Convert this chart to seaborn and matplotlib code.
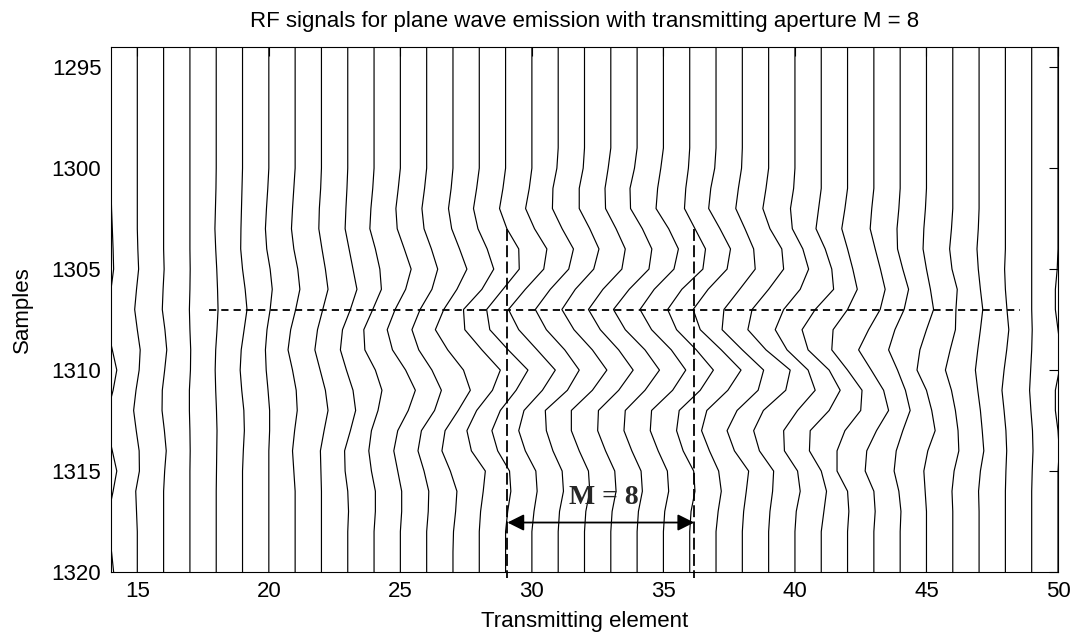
import matplotlib
matplotlib.use("Agg")
import matplotlib.pyplot as plt
import seaborn as sns
import pandas as pd

# muestras (eje vertical) y elementos (eje horizontal)
samples = list(range(1294, 1321))
elements = list(range(14, 51))

# desplazamiento de cada traza RF (en unidades de elemento), muestras 1294..1320
rf_14 = [0, 0, 0, 0, 0, 0, 0, 0, .02, .05, .08, .10, 0, -.12, -.12, .05, .22, .08, -.12, -.12, .05, .22, .08, -.08, -.08, .02, .10]
rf_15 = [0, 0, 0, 0, 0, 0, 0, 0, 0, 0, .02, .05, -.03, -.10, 0, .11, .07, -.05, -.14, -.04, .07, .08, -.06, -.03, 0, 0, 0]
rf_16 = [0, 0, 0, 0, 0, 0, 0, 0, 0, 0, 0, .02, -.02, -.05, .05, .12, .04, -.05, -.06, .03, .10, .04, 0, 0, 0, 0, 0]
rf_17 = [0, 0, 0, 0, 0, 0, 0, 0, 0, 0, 0, .01, 0, -.02, 0, .03, .02, -.02, -.02, 0, .01, 0, 0, 0, 0, 0, 0]
rf_18 = [0, 0, 0, 0, 0, 0, 0, -.01, -.03, -.05, -.02, .02, .05, .07, .03, -.02, -.04, -.02, .01, .03, .02, .01, 0, 0, 0, 0, 0]
rf_19 = [0, 0, 0, 0, 0, 0, 0, -.02, -.04, -.06, -.07, 0, .10, .17, .06, -.05, -.09, -.03, .05, .07, .03, 0, 0, 0, 0, 0, 0]
rf_20 = [0, 0, 0, 0, 0, 0, 0, -.04, -.09, -.13, -.08, .05, .13, .05, -.07, -.13, -.10, -.03, .03, .03, 0, 0, 0, 0, 0, 0, 0]
rf_21 = [0, 0, 0, 0, 0, 0, 0, -.05, -.10, -.14, -.05, .10, .18, .02, -.17, -.27, -.10, .04, .08, -.02, -.10, -.05, 0, 0, 0, 0, 0]
rf_22 = [0, 0, 0, 0, 0, 0, 0, -.03, -.08, -.10, .02, .15, .25, .05, -.15, -.25, -.05, .15, .25, .10, -.04, -.02, 0, 0, 0, 0, 0]
rf_23 = [0, 0, 0, 0, 0, 0, 0, -.03, -.07, -.10, .05, .20, .35, .10, -.20, -.28, -.05, .20, .30, .10, -.12, -.10, 0, .03, 0, 0, 0]
rf_24 = [0, 0, 0, 0, 0, 0, 0, -.05, -.12, -.16, .05, .22, .28, -.05, -.39, -.35, .05, .30, .15, -.10, -.20, -.10, .05, .05, 0, 0, 0]
rf_25 = [0, 0, 0, 0, 0, 0, 0, -.08, -.17, -.12, .15, .41, .20, -.20, -.50, -.30, .20, .57, .30, -.10, -.25, -.10, .05, .05, 0, 0, 0]
rf_26 = [0, 0, 0, 0, 0, 0, 0, -.08, -.18, -.10, .18, .42, .20, -.25, -.56, -.30, .20, .56, .30, -.20, -.33, -.10, .08, .06, 0, 0, 0]
rf_27 = [0, 0, 0, 0, 0, 0, 0, -.07, -.17, -.05, .25, .53, .15, -.35, -.67, -.20, .40, .66, .20, -.30, -.42, -.10, .15, .10, .02, 0, 0]
rf_28 = [0, 0, 0, 0, 0, 0, 0, -.10, -.22, -.05, .30, .55, .10, -.60, -.55, .10, .80, .50, -.10, -.47, -.30, .23, .15, .05, 0, 0, 0]
rf_29 = [0, 0, 0, 0, 0, 0, 0, -.10, -.23, .05, .50, .52, -.10, -.72, -.60, .10, .85, .40, -.20, -.52, -.30, .15, .20, .08, 0, 0, 0]
rf_30 = [0, 0, 0, 0, 0, 0, 0, -.10, -.24, .10, .57, .45, -.25, -.89, -.50, .20, .89, .40, -.30, -.50, -.25, .15, .20, .08, 0, 0, 0]
rf_31 = [0, 0, 0, 0, 0, 0, -.05, -.20, -.22, .15, .58, .40, -.30, -.87, -.45, .25, .80, .35, -.49, -.45, -.20, .15, .20, .05, 0, 0, 0]
rf_32 = [0, 0, 0, 0, 0, 0, -.05, -.20, -.20, .20, .55, .35, -.35, -.86, -.40, .30, .85, .30, -.50, -.50, -.20, .15, .20, .05, 0, 0, 0]
rf_33 = [0, 0, 0, 0, 0, 0, -.10, -.22, -.20, .20, .55, .42, -.30, -.85, -.40, .30, .85, .30, -.47, -.50, -.20, .15, .20, .05, 0, 0, 0]
rf_34 = [0, 0, 0, 0, 0, 0, -.10, -.27, -.25, .20, .56, .45, -.30, -.90, -.45, .30, .85, .30, -.45, -.50, -.20, .15, .20, .05, 0, 0, 0]
rf_35 = [0, 0, 0, 0, 0, 0, -.10, -.22, -.28, .20, .57, .40, -.35, -.89, -.45, .30, .85, .35, -.45, -.50, -.20, .15, .20, .05, 0, 0, 0]
rf_36 = [0, 0, 0, 0, 0, 0, -.05, -.15, -.20, .20, .60, .50, -.30, -.84, -.50, .25, .90, .40, -.40, -.50, -.25, .15, .20, .05, 0, 0, 0]
rf_37 = [0, 0, 0, 0, 0, 0, -.05, -.20, -.28, .15, .55, .42, -.30, -.87, -.60, .20, .95, .45, -.35, -.55, -.25, .10, .20, .08, 0, 0, 0]
rf_38 = [0, 0, 0, 0, 0, 0, -.03, -.15, -.25, .10, .43, .49, -.10, -.70, -.77, 0, .81, .60, -.20, -.58, -.30, .24, .15, .05, 0, 0, 0]
rf_39 = [0, 0, 0, 0, 0, 0, 0, -.10, -.22, .05, .50, .57, 0, -.63, -.79, -.10, .82, .65, -.20, -.57, -.35, .19, .15, .05, 0, 0, 0]
rf_40 = [0, 0, 0, 0, 0, 0, 0, -.05, -.17, -.10, .30, .52, .20, -.43, -.75, -.30, .50, .77, .10, -.43, -.40, .10, .20, .05, 0, 0, 0]
rf_41 = [0, 0, 0, 0, 0, 0, 0, 0, -.10, -.20, .15, .40, .47, -.23, -.73, -.50, .30, .72, .30, -.42, -.45, 0, .20, .10, 0, 0, 0]
rf_42 = [0, 0, 0, 0, 0, 0, 0, 0, -.10, -.22, 0, .20, .37, 0, -.55, -.60, 0, .55, .50, -.10, -.40, -.40, 0, .05, 0, 0, 0]
rf_43 = [0, 0, 0, 0, 0, 0, 0, 0, -.08, -.14, .05, .25, .43, .24, -.20, -.58, -.10, .37, .56, .10, -.27, -.33, 0, .05, 0, 0, 0]
rf_44 = [0, 0, 0, 0, 0, 0, 0, 0, -.05, -.12, -.10, .10, .32, .15, -.20, -.44, -.10, .20, .38, .10, -.15, -.23, -.05, .03, 0, 0, 0]
rf_45 = [0, 0, 0, 0, 0, 0, 0, 0, -.04, -.10, -.13, 0, .15, .27, 0, -.25, -.36, 0, .20, .33, .05, -.10, -.05, 0, 0, 0, 0]
rf_46 = [0, 0, 0, 0, 0, 0, 0, 0, 0, -.05, -.12, -.03, .17, .12, .10, -.10, -.28, -.05, .10, .20, .23, .05, -.03, 0, 0, 0, 0]
rf_47 = [0, 0, 0, 0, 0, 0, 0, 0, 0, -.03, -.08, -.03, .05, .14, .05, -.05, -.14, -.05, .05, .12, .18, .05, -.02, 0, 0, 0, 0]
rf_48 = [0, 0, 0, 0, 0, 0, 0, 0, 0, 0, 0, -.03, 0, .06, .13, .05, -.05, -.13, -.05, .02, .05, .02, 0, 0, 0, 0, 0]
rf_49 = [0, 0, 0, 0, 0, 0, 0, 0, 0, 0, 0, 0, 0, 0, .02, 0, -.04, -.08, -.03, .03, .05, .02, 0, 0, 0, 0, 0]
rf_50 = [0, 0, 0, 0, 0, 0, 0, 0, 0, 0, 0, -.03, -.10, -.10, 0, .10, .05, -.10, -.10, 0, .05, 0, 0, 0, 0, 0, 0]

traces = [rf_14, rf_15, rf_16, rf_17, rf_18, rf_19, rf_20, rf_21, rf_22, rf_23,
          rf_24, rf_25, rf_26, rf_27, rf_28, rf_29, rf_30, rf_31, rf_32, rf_33,
          rf_34, rf_35, rf_36, rf_37, rf_38, rf_39, rf_40, rf_41, rf_42, rf_43,
          rf_44, rf_45, rf_46, rf_47, rf_48, rf_49, rf_50]

# marcas de la apertura M = 8 y linea de la muestra focal
aperture_edges = [29.07, 36.17]
aperture_top = 1303
focus_sample = 1307
focus_span = [17.74, 48.56]
arrow_sample = 1317.55
label_sample = 1316.3

# tabla larga: una fila por muestra y elemento
rows = []
for el, tr in zip(elements, traces):
    for s, v in zip(samples, tr):
        rows.append({"element": el, "sample": s, "pos": el + v})
df = pd.DataFrame(rows)

sns.set_theme(style="white")
plt.rcParams["font.family"] = ["Liberation Sans", "DejaVu Sans"]
plt.rcParams["axes.edgecolor"] = "black"

fig = plt.figure(figsize=(10.73, 6.4), dpi=100)
ax = fig.add_axes([111 / 1073, 1 - 572 / 640, 947 / 1073, 525 / 640])

sns.lineplot(data=df, x="pos", y="sample", units="element", estimator=None,
             sort=False, orient="y", color="black", lw=0.85, ax=ax, legend=False)

# linea horizontal discontinua en la muestra focal
ax.plot(focus_span, [focus_sample, focus_sample], color="black", lw=1.3,
        ls=(0, (4.0, 2.8)))
# bordes de la apertura
for xe in aperture_edges:
    ax.plot([xe, xe], [aperture_top, 1320.3], color="black", lw=1.3,
            ls=(0, (6.6, 2.4)), clip_on=False)

ax.annotate("", xy=(aperture_edges[0], arrow_sample), xytext=(aperture_edges[1], arrow_sample),
            arrowprops=dict(arrowstyle="<|-|>", color="black", lw=1.3,
                            mutation_scale=25, shrinkA=0, shrinkB=0))
ax.text(sum(aperture_edges) / 2 + 0.1, label_sample, "M = 8", ha="center", va="center",
        fontsize=20, fontweight="bold", family=["Liberation Serif", "DejaVu Serif"])

ax.set_xlim(14, 50)
ax.set_ylim(1320, 1294)
ax.set_xticks(range(15, 51, 5))
ax.set_yticks(range(1295, 1321, 5))
ax.tick_params(direction="in", length=6.5, width=0.8, top=True, right=True,
               labelsize=16, colors="black")
ax.tick_params(axis="x", pad=6.5)
ax.tick_params(axis="y", pad=7)
for sp in ax.spines.values():
    sp.set_visible(True)
    sp.set_color("black")
    sp.set_linewidth(0.8)

ax.set_xlabel("Transmitting element", fontsize=16, color="black")
ax.set_ylabel("Samples", fontsize=16, color="black")
ax.xaxis.set_label_coords(0.5, -0.095)
ax.xaxis.label.set_verticalalignment("center")
ax.yaxis.set_label_coords(-0.094, 0.5)
ax.yaxis.label.set_verticalalignment("center")

fig.text(585 / 1073, 1 - 22 / 640,
         "RF signals for plane wave emission with transmitting aperture M = 8",
         ha="center", va="center", fontsize=16, color="black")

fig.savefig("out.png", dpi=100)
